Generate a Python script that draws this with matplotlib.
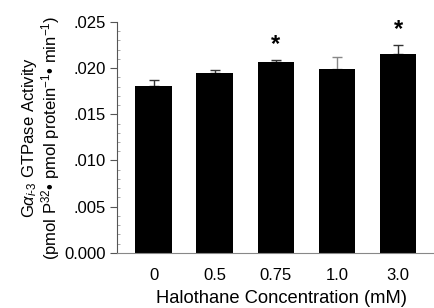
import numpy as np
import matplotlib
matplotlib.use("Agg")
import matplotlib.pyplot as plt
from matplotlib.ticker import MultipleLocator

plt.rcParams['font.family'] = ['Liberation Sans', 'DejaVu Sans']
plt.rcParams['mathtext.fontset'] = 'custom'
plt.rcParams['mathtext.rm'] = 'Liberation Sans'
plt.rcParams['mathtext.it'] = 'Liberation Sans:italic'

# data
conc = ['0', '0.5', '0.75', '1.0', '3.0']
activity = [0.0181, 0.01945, 0.0207, 0.01995, 0.02155]
err = [0.0006, 0.0003, 0.0002, 0.0013, 0.0010]
signif = [False, False, True, False, True]

fig = plt.figure(figsize=(4.35, 3.08), dpi=100)
ax = fig.add_axes([0.269, 0.179, 0.726, 0.75])

x = np.arange(len(conc))
ax.bar(x, activity, width=0.6, color='black', zorder=2)
for i in range(len(x)):
    c = '#888888' if i == 3 else '#333333'
    ls = ':' if i == 3 else '-'
    ax.errorbar(x[i], activity[i], yerr=[[0], [err[i]]], fmt='none',
                ecolor=c, elinewidth=1, capsize=3.5, capthick=1, linestyle=ls, zorder=1)
    if signif[i]:
        ax.text(x[i], activity[i] + err[i] + 0.0004, '*', ha='center', va='bottom',
                fontsize=17, fontweight='bold')

ax.set_xlim(-0.6, 4.57)
ax.set_ylim(0, 0.025)
ax.yaxis.set_minor_locator(MultipleLocator(0.001))
ax.set_yticks([0, 0.005, 0.010, 0.015, 0.020, 0.025])
ax.set_yticklabels(['0.000', '.005', '.010', '.015', '.020', '.025'])
ax.set_xticks(x)
ax.set_xticklabels(conc)
ax.tick_params(axis='x', length=0, pad=11, labelsize=12)
ax.tick_params(axis='y', which='major', length=5, pad=3, labelsize=12, color='#555555')
ax.tick_params(axis='y', which='minor', length=2, direction='in', color='#999999')

ax.spines['top'].set_visible(False)
ax.spines['right'].set_visible(False)
ax.spines['left'].set_color('#555555')
ax.spines['bottom'].set_color('#888888')

ax.set_xlabel('Halothane Concentration (mM)', fontsize=13.2)
ax.xaxis.set_label_coords(0.52, -0.16)
ax.set_ylabel('G$\\alpha_{i\\text{-}3}$ GTPase Activity\n'
              '(pmol P$^{32}$• pmol protein$^{-1}$• min$^{-1}$)',
              fontsize=12, linespacing=1.0)
ax.yaxis.set_label_coords(-0.175, 0.5)

fig.savefig('out.png', dpi=100)
